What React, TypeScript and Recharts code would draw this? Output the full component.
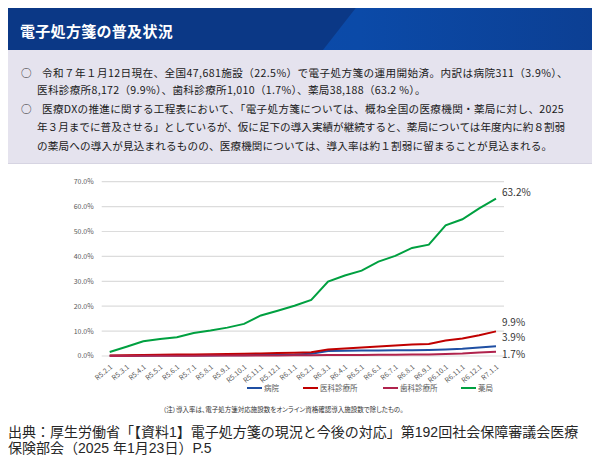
import React from "react";
import { LineChart, Line, XAxis, YAxis, CartesianGrid, LabelList } from "recharts";

// 導入率（%）R5.2.1 〜 R7.1.1
const dates = [
  "R5.2.1", "R5.3.1", "R5.4.1", "R5.5.1", "R5.6.1", "R5.7.1", "R5.8.1", "R5.9.1",
  "R5.10.1", "R5.11.1", "R5.12.1", "R6.1.1", "R6.2.1", "R6.3.1", "R6.4.1", "R6.5.1",
  "R6.6.1", "R6.7.1", "R6.8.1", "R6.9.1", "R6.10.1", "R6.11.1", "R6.12.1", "R7.1.1",
];
const hospital = [0.1, 0.1, 0.1, 0.2, 0.2, 0.2, 0.2, 0.3, 0.3, 0.4, 0.5, 0.6, 0.9, 2.0, 2.1, 2.2, 2.2, 2.3, 2.3, 2.4, 2.6, 2.9, 3.4, 3.9];
const clinic = [0.2, 0.3, 0.4, 0.5, 0.6, 0.6, 0.7, 0.8, 0.9, 1.0, 1.2, 1.3, 1.5, 2.6, 3.0, 3.4, 3.8, 4.2, 4.6, 4.8, 6.2, 7.0, 8.3, 9.9];
const dental = [0.0, 0.0, 0.1, 0.1, 0.1, 0.1, 0.2, 0.2, 0.2, 0.2, 0.2, 0.3, 0.3, 0.4, 0.4, 0.4, 0.5, 0.5, 0.6, 0.6, 0.8, 1.0, 1.4, 1.7];
const pharmacy = [1.6, 3.7, 5.9, 6.8, 7.5, 9.2, 10.2, 11.4, 12.9, 16.3, 18.2, 20.2, 22.5, 29.9, 32.3, 34.3, 37.9, 40.2, 43.4, 44.7, 52.5, 54.9, 59.3, 63.2];
const yTicks = [0, 10, 20, 30, 40, 50, 60, 70];

const series = [
  { key: "hospital", name: "病院", color: "#1f4fa3", labelDy: -9.5, legendX: 247 },
  { key: "clinic", name: "医科診療所", color: "#c00000", labelDy: -10, legendX: 303 },
  { key: "dental", name: "歯科診療所", color: "#b0234d", labelDy: 1.5, legendX: 383 },
  { key: "pharmacy", name: "薬局", color: "#00a040", labelDy: -7, legendX: 461 },
];

const data = dates.map((d, i) => ({
  date: d,
  hospital: hospital[i],
  clinic: clinic[i],
  dental: dental[i],
  pharmacy: pharmacy[i],
}));

const FONT = '"Noto Sans CJK JP", "Noto Sans", sans-serif';

const bodyLines = [
  { text: "○", x: 21, y: 73, ls: 0 },
  { text: "令和７年１月12日現在、全国47,681施設（22.5%）で電子処方箋の運用開始済。内訳は病院311（3.9%）、", x: 42, y: 73, ls: 0.4 },
  { text: "医科診療所8,172（9.9%）、歯科診療所1,010（1.7%）、薬局38,188（63.2 %）。", x: 37, y: 90, ls: 0.3 },
  { text: "○", x: 21, y: 109, ls: 0 },
  { text: "医療DXの推進に関する工程表において、「電子処方箋については、概ね全国の医療機関・薬局に対し、2025", x: 42, y: 109, ls: 0.3 },
  { text: "年３月までに普及させる」としているが、仮に足下の導入実績が継続すると、薬局については年度内に約８割弱", x: 37, y: 127, ls: 0 },
  { text: "の薬局への導入が見込まれるものの、医療機関については、導入率は約１割弱に留まることが見込まれる。", x: 37, y: 146, ls: 0.15 },
];

const sourceLines = [
  "出典：厚生労働省「【資料1】電子処方箋の現況と今後の対応」第192回社会保障審議会医療",
  "保険部会（2025 年1月23日）P.5",
];

function EndLabel(props: any, dy: number) {
  const { x, y, index, value } = props;
  if (index !== dates.length - 1) return null;
  return (
    <text x={x + 6} y={y + dy} dominantBaseline="central" fontSize={10} fill="#333" fontFamily={FONT}>
      {value.toFixed(1)}%
    </text>
  );
}

export default function App() {
  return (
    <div style={{ position: "relative", width: 600, height: 471, margin: -8, background: "#fff", fontFamily: FONT, overflow: "hidden" }}>
      {/* header band */}
      <div style={{ position: "absolute", left: 0, top: 0, width: 600, height: 50, background: "#0b3886" }} />
      <div
        style={{
          position: "absolute", left: 0, top: 0, width: 600, height: 50,
          background: "linear-gradient(90deg, #0a4cae 0%, #0b4aa8 60%, #0c3f93 100%)",
          clipPath: "polygon(362px 0, 600px 0, 600px 50px, 323px 50px)",
        }}
      />
      <div style={{ position: "absolute", left: 20, top: 23, color: "#fff", fontSize: 15, fontWeight: 700, lineHeight: "16px", letterSpacing: 0.3 }}>
        電子処方箋の普及状況
      </div>

      {/* summary box */}
      <div style={{ position: "absolute", left: 0, top: 50, width: 600, height: 113, background: "#e5e3ee", borderBottom: "1px solid #d6d4e2" }} />
      {bodyLines.map((l, i) => (
        <div
          key={i}
          style={{
            position: "absolute", left: l.x, top: l.y - 6, fontSize: 10.6, lineHeight: "12px",
            whiteSpace: "nowrap", color: "#1a1a1a", letterSpacing: l.ls,
          }}
        >
          {l.text}
        </div>
      ))}

      {/* chart */}
      <div style={{ position: "absolute", left: 0, top: 170 }}>
        <LineChart width={600} height={230} data={data} margin={{ top: 11.7, right: 96, bottom: 0, left: 0 }}>
          <CartesianGrid vertical={false} stroke="#dcdcdc" strokeWidth={1.2} />
          <XAxis
            dataKey="date"
            interval={0}
            tickLine={false}
            axisLine={false}
            height={44}
            padding={{ left: 8, right: 8 }}
            angle={-40}
            textAnchor="end"
            tick={{ fontSize: 7, fill: "#595959", fontFamily: FONT }}
          />
          <YAxis
            width={101.7}
            domain={[0, 70]}
            ticks={yTicks}
            tickLine={false}
            axisLine={false}
            tickFormatter={(v: number) => v.toFixed(1) + "%"}
            tick={{ fontSize: 7, fill: "#595959", fontFamily: FONT }}
          />
          {series.map((s) => (
            <Line
              key={s.key}
              dataKey={s.key}
              name={s.name}
              stroke={s.color}
              strokeWidth={2}
              dot={false}
              isAnimationActive={false}
            >
              <LabelList dataKey={s.key} content={(p: any) => EndLabel(p, s.labelDy)} />
            </Line>
          ))}
        </LineChart>
      </div>

      {/* legend */}
      {series.map((s) => (
        <div key={s.key} style={{ position: "absolute", left: s.legendX, top: 383, display: "flex", alignItems: "center" }}>
          <div style={{ width: 15, height: 2, background: s.color, marginRight: 2 }} />
          <span style={{ fontSize: 7.5, color: "#595959", lineHeight: "10px", whiteSpace: "nowrap" }}>{s.name}</span>
        </div>
      ))}

      <div style={{ position: "absolute", left: 163, top: 405, fontSize: 6.5, color: "#333", whiteSpace: "nowrap", lineHeight: "8px", fontFeatureSettings: '"palt"' }}>
        （注）導入率は、電子処方箋対応施設数をオンライン資格確認導入施設数で除したもの。
      </div>

      {/* source */}
      {sourceLines.map((t, i) => (
        <div
          key={i}
          style={{
            position: "absolute", left: 8, top: 424 + i * 16, fontSize: 14, color: "#262626", lineHeight: "16px", height: 16,
            whiteSpace: "nowrap", fontFamily: '"Liberation Sans", "Noto Sans CJK JP", sans-serif',
          }}
        >
          {t}
        </div>
      ))}
    </div>
  );
}
